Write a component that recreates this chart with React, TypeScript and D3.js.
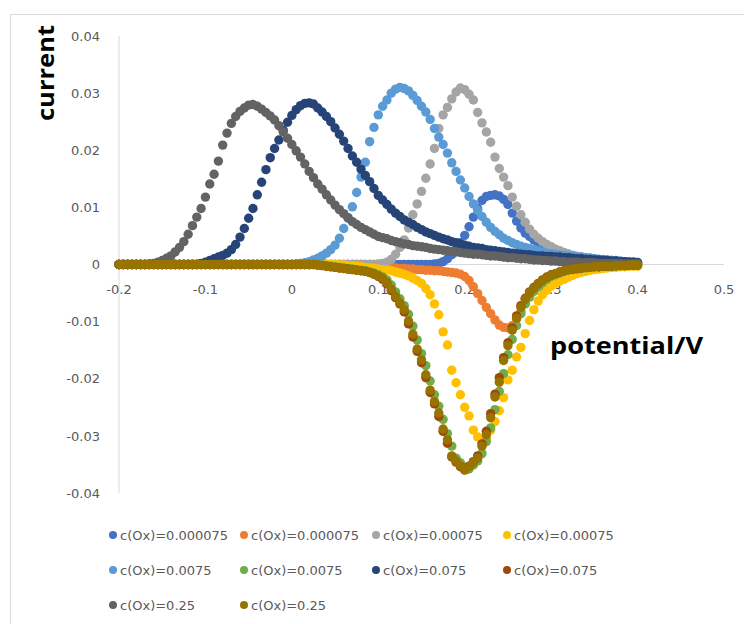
import React from "react";
import * as d3 from "d3";

// potential sweep (V), shared by all series
const potential = [
  -0.2, -0.195, -0.19, -0.185, -0.18, -0.175, -0.17, -0.165, -0.16, -0.155,
  -0.15, -0.145, -0.14, -0.135, -0.13, -0.125, -0.12, -0.115, -0.11, -0.105,
  -0.1, -0.095, -0.09, -0.085, -0.08, -0.075, -0.07, -0.065, -0.06, -0.055,
  -0.05, -0.045, -0.04, -0.035, -0.03, -0.025, -0.02, -0.015, -0.01, -0.005,
  0, 0.005, 0.01, 0.015, 0.02, 0.025, 0.03, 0.035, 0.04, 0.045,
  0.05, 0.055, 0.06, 0.065, 0.07, 0.075, 0.08, 0.085, 0.09, 0.095,
  0.1, 0.105, 0.11, 0.115, 0.12, 0.125, 0.13, 0.135, 0.14, 0.145,
  0.15, 0.155, 0.16, 0.165, 0.17, 0.175, 0.18, 0.185, 0.19, 0.195,
  0.2, 0.205, 0.21, 0.215, 0.22, 0.225, 0.23, 0.235, 0.24, 0.245,
  0.25, 0.255, 0.26, 0.265, 0.27, 0.275, 0.28, 0.285, 0.29, 0.295,
  0.3, 0.305, 0.31, 0.315, 0.32, 0.325, 0.33, 0.335, 0.34, 0.345,
  0.35, 0.355, 0.36, 0.365, 0.37, 0.375, 0.38, 0.385, 0.39, 0.395,
  0.4,
];

// c(Ox)=0.000075 oxidation
const oxA = [
  0, 0, 0, 0, 0, 0, 0, 0, 0, 0,
  0, 0, 0, 0, 0, 0, 0, 0, 0, 0,
  0, 0, 0, 0, 0, 0, 0, 0, 0, 0,
  0, 0, 0, 0, 0, 0, 0, 0, 0, 0,
  0, 0, 0, 0, 0, 0, 0, 0, 0, 0,
  0, 0, 0, 0, 0, 0, 0, 0, 0, 0,
  0, 0, 0, 0, 0, 0, 0, 0, 0, 0,
  0, 0, 0, 0.0001, 0.0002, 0.0005, 0.001, 0.0017, 0.0026, 0.0038,
  0.0051, 0.0066, 0.0083, 0.0098, 0.0112, 0.0119, 0.0121, 0.0122, 0.012, 0.0114,
  0.0105, 0.009, 0.0076, 0.0064, 0.0055, 0.0049, 0.0043, 0.0038, 0.0034, 0.003,
  0.0027, 0.0024, 0.0022, 0.002, 0.0018, 0.0016, 0.0014, 0.0013, 0.0012, 0.0011,
  0.001, 0.0009, 0.0008, 0.0007, 0.0007, 0.0006, 0.0005, 0.0005, 0.0004, 0.0004,
  0.0003,
];

// c(Ox)=0.000075 reduction
const redA = [
  0, 0, 0, 0, 0, 0, 0, 0, 0, 0,
  0, 0, 0, 0, 0, 0, 0, 0, 0, 0,
  0, 0, 0, 0, 0, 0, 0, 0, 0, 0,
  0, 0, 0, 0, 0, 0, 0, 0, 0, 0,
  0, 0, 0, 0, 0, 0, 0, 0, 0, 0,
  0, 0, 0, 0, 0, 0, 0, -0.0001, -0.0002, -0.0002,
  -0.0003, -0.0004, -0.0005, -0.0005, -0.0006, -0.0007, -0.0007, -0.0008, -0.0008, -0.0009,
  -0.0009, -0.001, -0.001, -0.0011, -0.0011, -0.0012, -0.0013, -0.0014, -0.0015, -0.0017,
  -0.0021, -0.0028, -0.0039, -0.0051, -0.0063, -0.0075, -0.0086, -0.0097, -0.0106, -0.011,
  -0.0111, -0.0107, -0.0095, -0.0082, -0.0068, -0.0056, -0.0045, -0.0037, -0.003, -0.0025,
  -0.002, -0.0017, -0.0014, -0.0012, -0.001, -0.0009, -0.0008, -0.0007, -0.0006, -0.0005,
  -0.0005, -0.0004, -0.0004, -0.0003, -0.0003, -0.0003, -0.0002, -0.0002, -0.0002, -0.0001,
  -0.0001,
];

// c(Ox)=0.00075 oxidation
const oxB = [
  0, 0, 0, 0, 0, 0, 0, 0, 0, 0,
  0, 0, 0, 0, 0, 0, 0, 0, 0, 0,
  0, 0, 0, 0, 0, 0, 0, 0, 0, 0,
  0, 0, 0, 0, 0, 0, 0, 0, 0, 0,
  0, 0, 0, 0, 0, 0, 0, 0, 0, 0,
  0, 0, 0, 0, 0, 0, 0, 0, 0, 0,
  0.0001, 0.0002, 0.0004, 0.0009, 0.0018, 0.003, 0.0043, 0.0064, 0.0087, 0.0106,
  0.0128, 0.0151, 0.0176, 0.0203, 0.0238, 0.0262, 0.0275, 0.029, 0.0302, 0.0309,
  0.0306, 0.0298, 0.0288, 0.0266, 0.0248, 0.0232, 0.0214, 0.0188, 0.0168, 0.0153,
  0.0138, 0.0118, 0.0102, 0.0087, 0.0074, 0.0062, 0.0053, 0.0046, 0.004, 0.0035,
  0.0031, 0.0027, 0.0024, 0.0021, 0.0018, 0.0016, 0.0014, 0.0012, 0.0011, 0.001,
  0.0009, 0.0008, 0.0007, 0.0006, 0.0006, 0.0005, 0.0005, 0.0004, 0.0004, 0.0003,
  0.0003,
];

// c(Ox)=0.00075 reduction
const redB = [
  0, 0, 0, 0, 0, 0, 0, 0, 0, 0,
  0, 0, 0, 0, 0, 0, 0, 0, 0, 0,
  0, 0, 0, 0, 0, 0, 0, 0, 0, 0,
  0, 0, 0, 0, 0, 0, 0, 0, 0, 0,
  0, 0, 0, 0, 0, 0, 0, 0, 0, 0,
  0, -0.0001, -0.0001, -0.0002, -0.0002, -0.0003, -0.0004, -0.0005, -0.0006, -0.0007,
  -0.0008, -0.0009, -0.001, -0.0011, -0.0013, -0.0015, -0.0017, -0.002, -0.0024, -0.0028,
  -0.0033, -0.0042, -0.0053, -0.0069, -0.0088, -0.0118, -0.0141, -0.0185, -0.0207, -0.0228,
  -0.025, -0.0265, -0.029, -0.0302, -0.031, -0.0304, -0.029, -0.0275, -0.0256, -0.0233,
  -0.0202, -0.0185, -0.0162, -0.0145, -0.0121, -0.0098, -0.0079, -0.0064, -0.0053, -0.0045,
  -0.0038, -0.0033, -0.0029, -0.0026, -0.0022, -0.0019, -0.0016, -0.0014, -0.0012, -0.001,
  -0.0009, -0.0008, -0.0007, -0.0006, -0.0005, -0.0005, -0.0004, -0.0004, -0.0003, -0.0003,
  -0.0003,
];

// c(Ox)=0.0075 oxidation
const oxC = [
  0, 0, 0, 0, 0, 0, 0, 0, 0, 0,
  0, 0, 0, 0, 0, 0, 0, 0, 0, 0,
  0, 0, 0, 0, 0, 0, 0, 0, 0, 0,
  0, 0, 0, 0, 0, 0, 0, 0, 0, 0,
  0, 0.0001, 0.0002, 0.0003, 0.0005, 0.0008, 0.0011, 0.0015, 0.002, 0.0026,
  0.0034, 0.0046, 0.0063, 0.0081, 0.0101, 0.0126, 0.0153, 0.0179, 0.0215, 0.024,
  0.0262, 0.0277, 0.0288, 0.03, 0.0307, 0.031, 0.0308, 0.0304, 0.0296, 0.0287,
  0.0277, 0.0267, 0.0254, 0.0238, 0.0223, 0.021, 0.0195, 0.0178, 0.0163, 0.0148,
  0.0134, 0.0119, 0.0106, 0.0095, 0.0084, 0.0074, 0.0065, 0.0058, 0.0052, 0.0046,
  0.0042, 0.0038, 0.0035, 0.0032, 0.003, 0.0028, 0.0026, 0.0024, 0.0022, 0.002,
  0.0019, 0.0018, 0.0017, 0.0016, 0.0015, 0.0014, 0.0013, 0.0012, 0.0011, 0.0011,
  0.001, 0.0009, 0.0009, 0.0008, 0.0007, 0.0007, 0.0006, 0.0005, 0.0005, 0.0004,
  0.0004,
];

// c(Ox)=0.0075 reduction
const redC = [
  0, 0, 0, 0, 0, 0, 0, 0, 0, 0,
  0, 0, 0, 0, 0, 0, 0, 0, 0, 0,
  0, 0, 0, 0, 0, 0, 0, 0, 0, 0,
  0, 0, 0, 0, 0, 0, 0, 0, 0, 0,
  0, 0, 0, 0, 0, 0, 0, -0.0001, -0.0002, -0.0003,
  -0.0004, -0.0005, -0.0006, -0.0007, -0.0008, -0.0009, -0.001, -0.0011, -0.0013, -0.0015,
  -0.0018, -0.0022, -0.0027, -0.0036, -0.0048, -0.006, -0.0072, -0.0087, -0.0108, -0.0132,
  -0.0156, -0.0177, -0.0204, -0.0228, -0.0248, -0.0271, -0.0296, -0.0318, -0.0339, -0.0347,
  -0.0355, -0.0358, -0.0351, -0.0344, -0.0331, -0.031, -0.0286, -0.0254, -0.0222, -0.0191,
  -0.0158, -0.0131, -0.0107, -0.0086, -0.0069, -0.0057, -0.0047, -0.0039, -0.0032, -0.0026,
  -0.0021, -0.0018, -0.0015, -0.0012, -0.001, -0.0009, -0.0008, -0.0007, -0.0006, -0.0005,
  -0.0004, -0.0004, -0.0003, -0.0003, -0.0003, -0.0003, -0.0002, -0.0002, -0.0001, -0.0001,
  -0.0001,
];

// c(Ox)=0.075 oxidation
const oxD = [
  0, 0, 0, 0, 0, 0, 0, 0, 0, 0,
  0, 0, 0, 0, 0, 0, 0, 0, 0, 0.0002,
  0.0004, 0.0007, 0.001, 0.0013, 0.0016, 0.002, 0.0026, 0.0035, 0.0048, 0.0063,
  0.0081, 0.0098, 0.0122, 0.0144, 0.0166, 0.0187, 0.0203, 0.0218, 0.0235, 0.0249,
  0.0261, 0.0271, 0.0278, 0.0282, 0.0283, 0.0281, 0.0274, 0.0267, 0.0259, 0.025,
  0.0239, 0.0228, 0.0216, 0.0203, 0.019, 0.0179, 0.0167, 0.0156, 0.0145, 0.0133,
  0.0121, 0.0113, 0.0105, 0.0097, 0.009, 0.0084, 0.0078, 0.0074, 0.007, 0.0065,
  0.0061, 0.0057, 0.0054, 0.0051, 0.0048, 0.0045, 0.0043, 0.004, 0.0038, 0.0036,
  0.0034, 0.0032, 0.003, 0.0029, 0.0028, 0.0026, 0.0025, 0.0024, 0.0023, 0.0022,
  0.0021, 0.002, 0.0019, 0.0018, 0.0017, 0.0017, 0.0016, 0.0015, 0.0015, 0.0014,
  0.0014, 0.0013, 0.0013, 0.0012, 0.0012, 0.0011, 0.001, 0.001, 0.0009, 0.0009,
  0.0008, 0.0008, 0.0007, 0.0007, 0.0006, 0.0006, 0.0005, 0.0005, 0.0004, 0.0004,
  0.0003,
];

// c(Ox)=0.075 reduction
const redD = [
  0, 0, 0, 0, 0, 0, 0, 0, 0, 0,
  0, 0, 0, 0, 0, 0, 0, 0, 0, 0,
  0, 0, 0, 0, 0, 0, 0, 0, 0, 0,
  0, 0, 0, 0, 0, 0, 0, 0, 0, 0,
  0, 0, 0, 0, 0, 0, -0.0001, -0.0002, -0.0003, -0.0004,
  -0.0005, -0.0006, -0.0007, -0.0008, -0.0009, -0.001, -0.0011, -0.0012, -0.0014, -0.0017,
  -0.0021, -0.0026, -0.0034, -0.0046, -0.0058, -0.0069, -0.0083, -0.0104, -0.0127, -0.0152,
  -0.0172, -0.0198, -0.0224, -0.0244, -0.0266, -0.0292, -0.0313, -0.0337, -0.0346, -0.0354,
  -0.0359, -0.0353, -0.0345, -0.0335, -0.0314, -0.0292, -0.0261, -0.0227, -0.0198, -0.0163,
  -0.0137, -0.0111, -0.009, -0.0072, -0.0059, -0.0048, -0.004, -0.0033, -0.0027, -0.0022,
  -0.0018, -0.0016, -0.0013, -0.0011, -0.0009, -0.0008, -0.0007, -0.0006, -0.0005, -0.0005,
  -0.0004, -0.0004, -0.0003, -0.0003, -0.0003, -0.0002, -0.0002, -0.0002, -0.0001, -0.0001,
  -0.0001,
];

// c(Ox)=0.25 oxidation
const oxE = [
  0, 0, 0, 0, 0, 0, 0, 0.0001, 0.0002, 0.0004,
  0.0007, 0.0011, 0.0015, 0.0022, 0.003, 0.004, 0.0053, 0.0068, 0.0083, 0.0098,
  0.0118, 0.0141, 0.0158, 0.0181, 0.0209, 0.023, 0.0247, 0.0259, 0.0268, 0.0274,
  0.0279, 0.028, 0.0277, 0.0272, 0.0266, 0.026, 0.0253, 0.0243, 0.0232, 0.0221,
  0.021, 0.0199, 0.0188, 0.0176, 0.0163, 0.0152, 0.0141, 0.0132, 0.0122, 0.0113,
  0.0104, 0.0096, 0.0089, 0.0082, 0.0075, 0.007, 0.0065, 0.0061, 0.0057, 0.0053,
  0.0049, 0.0047, 0.0045, 0.0042, 0.004, 0.0038, 0.0036, 0.0035, 0.0033, 0.0032,
  0.0031, 0.003, 0.0028, 0.0027, 0.0026, 0.0025, 0.0024, 0.0023, 0.0022, 0.0021,
  0.002, 0.0019, 0.0018, 0.0018, 0.0017, 0.0016, 0.0015, 0.0015, 0.0014, 0.0013,
  0.0012, 0.0012, 0.0011, 0.001, 0.001, 0.0009, 0.0008, 0.0008, 0.0007, 0.0007,
  0.0006, 0.0006, 0.0005, 0.0005, 0.0004, 0.0004, 0.0004, 0.0003, 0.0003, 0.0003,
  0.0003, 0.0002, 0.0002, 0.0002, 0.0002, 0.0002, 0.0002, 0.0001, 0.0001, 0.0001,
  0.0001,
];

// c(Ox)=0.25 reduction
const redE = [
  0, 0, 0, 0, 0, 0, 0, 0, 0, 0,
  0, 0, 0, 0, 0, 0, 0, 0, 0, 0,
  0, 0, 0, 0, 0, 0, 0, 0, 0, 0,
  0, 0, 0, 0, 0, 0, 0, 0, 0, 0,
  0, 0, 0, 0, 0, 0, -0.0001, -0.0002, -0.0003, -0.0004,
  -0.0005, -0.0006, -0.0007, -0.0008, -0.0009, -0.001, -0.0011, -0.0012, -0.0014, -0.0017,
  -0.002, -0.0024, -0.0032, -0.0043, -0.0056, -0.0067, -0.0079, -0.0099, -0.0122, -0.0148,
  -0.0167, -0.0193, -0.022, -0.024, -0.026, -0.0288, -0.0307, -0.0335, -0.0344, -0.0352,
  -0.036, -0.0354, -0.0347, -0.0339, -0.0318, -0.0298, -0.0268, -0.0232, -0.0206, -0.0168,
  -0.0142, -0.0115, -0.0094, -0.0075, -0.0061, -0.005, -0.0042, -0.0034, -0.0028, -0.0023,
  -0.0019, -0.0016, -0.0013, -0.0011, -0.0009, -0.0008, -0.0007, -0.0006, -0.0005, -0.0005,
  -0.0004, -0.0004, -0.0003, -0.0003, -0.0003, -0.0002, -0.0002, -0.0002, -0.0001, -0.0001,
  -0.0001,
];

const seriesValues = [oxA, redA, oxB, redB, oxC, redC, oxD, redD, oxE, redE];
const seriesLabels = [
  "c(Ox)=0.000075", "c(Ox)=0.000075", "c(Ox)=0.00075", "c(Ox)=0.00075",
  "c(Ox)=0.0075", "c(Ox)=0.0075", "c(Ox)=0.075", "c(Ox)=0.075",
  "c(Ox)=0.25", "c(Ox)=0.25",
];
const colors = [
  "#4472C4", "#ED7D31", "#A5A5A5", "#FFC000", "#5B9BD5",
  "#70AD47", "#264478", "#9E480E", "#636363", "#997300",
];

const xTicks = [-0.2, -0.1, 0, 0.1, 0.2, 0.3, 0.4, 0.5];
const xTickLabels = ["-0.2", "-0.1", "0", "0.1", "0.2", "0.3", "0.4", "0.5"];
const yTicks = [0.04, 0.03, 0.02, 0.01, 0, -0.01, -0.02, -0.03, -0.04];
const yTickLabels = ["0.04", "0.03", "0.02", "0.01", "0", "-0.01", "-0.02", "-0.03", "-0.04"];

const W = 744;
const H = 624;

const App = () => {
  const x = d3.scaleLinear().domain([-0.2, 0.5]).range([119, 724]);
  const y = d3.scaleLinear().domain([-0.04, 0.04]).range([493, 36]);

  const tickFont = "'DejaVu Sans', sans-serif";
  const titleFont = "'Open Sans', sans-serif";

  // legend grid: 4 per row
  const legendCols = [113, 244, 376, 507];
  const legendRows = [535, 570, 605];

  return (
    <svg
      width={W}
      height={H}
      style={{ position: "absolute", left: 0, top: 0, background: "#fff" }}
    >
      <rect x={10.5} y={14.5} width={W} height={H} fill="none" stroke="#D9D9D9" />

      {/* axes */}
      <line x1={x(-0.2)} x2={x(-0.2)} y1={y(0.04)} y2={y(-0.04)} stroke="#D9D9D9" />
      <line x1={x(-0.2)} x2={x(0.5)} y1={y(0)} y2={y(0)} stroke="#D9D9D9" />

      {yTicks.map((t, i) => (
        <text key={"y" + i} x={100} y={y(t)} dy="0.36em" textAnchor="end"
          fontFamily={tickFont} fontSize={13} fill="#595959">
          {yTickLabels[i]}
        </text>
      ))}
      {xTicks.map((t, i) => (
        <text key={"x" + i} x={x(t)} y={y(0) + 29} textAnchor="middle"
          fontFamily={tickFont} fontSize={13} fill="#595959">
          {xTickLabels[i]}
        </text>
      ))}

      {/* points */}
      {seriesValues.map((vals, s) => (
        <g key={"s" + s} fill={colors[s]}>
          {vals.map((c, i) => (
            <circle key={i} cx={x(potential[i])} cy={y(c)} r={4.7} />
          ))}
        </g>
      ))}

      {/* axis titles */}
      <text transform="translate(54,73) rotate(-90)" textAnchor="middle"
        fontFamily={titleFont} fontWeight={700} fontSize={24}
        textLength={96} lengthAdjust="spacingAndGlyphs" fill="#000">
        current
      </text>
      <text x={550} y={354} fontFamily={titleFont} fontWeight={700} fontSize={24}
        textLength={153} lengthAdjust="spacingAndGlyphs" fill="#000">
        potential/V
      </text>

      {/* legend */}
      {seriesLabels.map((lab, i) => {
        const cx = legendCols[i % 4];
        const cy = legendRows[Math.floor(i / 4)];
        return (
          <g key={"l" + i}>
            <circle cx={cx} cy={cy} r={4} fill={colors[i]} />
            <text x={cx + 7} y={cy} dy="0.36em" fontFamily={tickFont}
              fontSize={13} fill="#595959">
              {lab}
            </text>
          </g>
        );
      })}
    </svg>
  );
};

export default App;
